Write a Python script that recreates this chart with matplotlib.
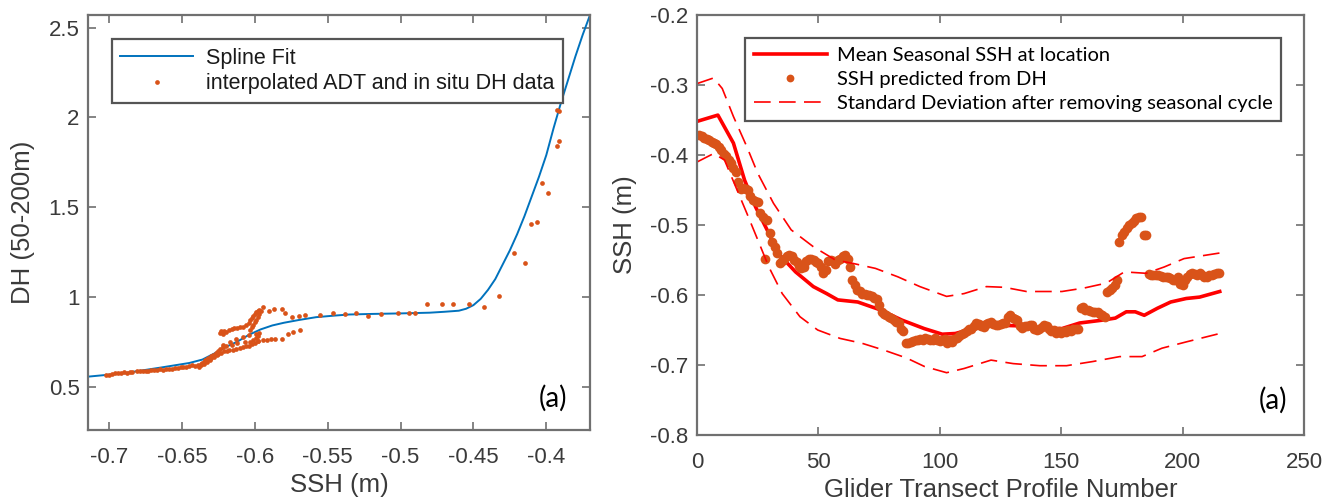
import matplotlib
matplotlib.use("Agg")
import matplotlib.pyplot as plt
from matplotlib.ticker import FixedLocator, FixedFormatter

plt.rcParams['axes.unicode_minus'] = False
plt.rcParams['font.family'] = ['Liberation Sans', 'DejaVu Sans']

# ---------------- Panel 1 data ----------------
spline_ssh = [-0.7145, -0.700, -0.690, -0.677, -0.665, -0.655, -0.645, -0.636, -0.628, -0.620,
              -0.612, -0.604, -0.596, -0.588, -0.580, -0.570, -0.558, -0.545, -0.535, -0.520,
              -0.500, -0.480, -0.470, -0.460, -0.455, -0.450, -0.445, -0.440, -0.435, -0.430,
              -0.425, -0.420, -0.415, -0.410, -0.405, -0.400, -0.395, -0.390, -0.385, -0.380,
              -0.375, -0.370]
spline_dh = [0.557, 0.568, 0.576, 0.592, 0.607, 0.620, 0.633, 0.652, 0.685, 0.722,
             0.752, 0.790, 0.820, 0.842, 0.857, 0.872, 0.888, 0.897, 0.903, 0.906,
             0.909, 0.913, 0.918, 0.924, 0.935, 0.955, 0.990, 1.040, 1.100, 1.180,
             1.260, 1.350, 1.450, 1.560, 1.670, 1.790, 1.940, 2.080, 2.210, 2.340,
             2.460, 2.570]

obs_ssh = [
    # low flat part
    -0.702, -0.700, -0.698, -0.696, -0.694, -0.692, -0.690, -0.688, -0.686, -0.684,
    -0.681, -0.679, -0.677, -0.675, -0.673, -0.671, -0.669, -0.667, -0.665, -0.663,
    -0.661, -0.659, -0.657, -0.655, -0.653, -0.651, -0.649, -0.647, -0.645, -0.643,
    -0.641, -0.639, -0.637,
    # dense lower part of the loop
    -0.638, -0.637, -0.636, -0.635, -0.635, -0.634, -0.633, -0.633, -0.632, -0.631,
    -0.630, -0.630, -0.629, -0.628, -0.627, -0.626, -0.625, -0.625, -0.624, -0.623,
    -0.622, -0.621, -0.620, -0.619, -0.618, -0.616, -0.615, -0.613, -0.612, -0.610,
    -0.608, -0.607, -0.606, -0.604, -0.603, -0.602, -0.601, -0.600, -0.599, -0.598,
    -0.598, -0.597,
    # upper branch of the loop
    -0.624, -0.623, -0.622, -0.621, -0.620, -0.618, -0.616, -0.614, -0.612, -0.610,
    -0.608, -0.606, -0.604, -0.603, -0.602, -0.601, -0.600, -0.599, -0.598, -0.597,
    -0.596, -0.597, -0.598, -0.599, -0.600, -0.601, -0.602, -0.603,
    # middle branch
    -0.622, -0.617, -0.613, -0.608, -0.604, -0.599,
    # lower right branch
    -0.5977, -0.5947, -0.5920, -0.5890, -0.5863, -0.5817, -0.5771, -0.5737, -0.5691,
    # upper right points
    -0.5942, -0.5900, -0.5870, -0.5816, -0.5790, -0.5747, -0.5700, -0.5656,
    # plateau
    -0.5554, -0.5463, -0.5383, -0.5303, -0.5223, -0.5131, -0.5017, -0.4941, -0.4901,
    -0.4822, -0.4717, -0.4638, -0.4532, -0.4427, -0.4322,
    # steep part
    -0.4224, -0.4148, -0.4103, -0.4063, -0.4032, -0.3985, -0.3927, -0.3913, -0.3927, -0.3911,
]
obs_dh = [
    0.565, 0.568, 0.572, 0.575, 0.577, 0.579, 0.581, 0.580, 0.583, 0.585,
    0.586, 0.588, 0.589, 0.591, 0.590, 0.593, 0.595, 0.596, 0.597, 0.596,
    0.599, 0.601, 0.600, 0.603, 0.605, 0.612, 0.608, 0.611, 0.615, 0.620,
    0.617, 0.622, 0.626,
    0.612, 0.620, 0.632, 0.640, 0.625, 0.648, 0.655, 0.638, 0.662, 0.650,
    0.670, 0.658, 0.680, 0.668, 0.690, 0.676, 0.700, 0.684, 0.710, 0.690,
    0.720, 0.697, 0.728, 0.700, 0.705, 0.735, 0.708, 0.712, 0.742, 0.716,
    0.720, 0.748, 0.725, 0.730, 0.752, 0.738, 0.760, 0.745, 0.770, 0.755,
    0.785, 0.800,
    0.800, 0.810, 0.795, 0.812, 0.805, 0.815, 0.822, 0.825, 0.828, 0.832,
    0.835, 0.845, 0.855, 0.870, 0.885, 0.895, 0.905, 0.915, 0.922, 0.927,
    0.925, 0.905, 0.890, 0.875, 0.860, 0.845, 0.832, 0.818,
    0.732, 0.752, 0.769, 0.780, 0.788, 0.797,
    0.756, 0.760, 0.760, 0.766, 0.769, 0.769, 0.797, 0.806, 0.815,
    0.942, 0.925, 0.936, 0.936, 0.912, 0.890, 0.894, 0.899,
    0.899, 0.909, 0.904, 0.909, 0.896, 0.904, 0.909, 0.912, 0.914,
    0.961, 0.961, 0.961, 0.964, 0.946, 1.007,
    1.243, 1.191, 1.406, 1.419, 1.633, 1.577, 2.041, 2.038, 1.843, 1.869,
]

p1_xticks = [-0.7, -0.65, -0.6, -0.55, -0.5, -0.45, -0.4]
p1_xticklabels = ['-0.7', '-0.65', '-0.6', '-0.55', '-0.5', '-0.45', '-0.4']
p1_yticks = [0.5, 1.0, 1.5, 2.0, 2.5]
p1_yticklabels = ['0.5', '1', '1.5', '2', '2.5']

# ---------------- Panel 2 data ----------------
mean_n = [0, 8.6, 15, 19.6, 24.1, 29.6, 33.3, 40.6, 47.9, 53.4, 58, 66.2, 75.3, 84.5, 93.6,
          101, 106.4, 113.8, 122.9, 132, 141.2, 150.3, 157.6, 166.8, 172.3, 176.8, 180.5,
          184.2, 189.6, 195.1, 201.5, 207, 215.3]
mean_ssh = [-0.352, -0.343, -0.383, -0.436, -0.474, -0.512, -0.540, -0.567, -0.588, -0.598,
            -0.607, -0.610, -0.621, -0.636, -0.648, -0.656, -0.655, -0.648, -0.643, -0.644,
            -0.648, -0.648, -0.640, -0.636, -0.633, -0.624, -0.624, -0.629, -0.619, -0.610,
            -0.605, -0.603, -0.595]

upper_n = [0, 6.8, 10.4, 15, 20.5, 25, 31.5, 38.8, 47.9, 57, 64.4, 73.5, 82.7, 91.8, 102.8,
           110, 119.2, 126.6, 135.7, 150.3, 159.5, 168.6, 176, 185, 192.4, 200.6, 215.3]
upper_ssh = [-0.298, -0.290, -0.305, -0.345, -0.388, -0.426, -0.469, -0.507, -0.531, -0.550,
             -0.555, -0.562, -0.574, -0.588, -0.602, -0.598, -0.588, -0.589, -0.595, -0.595,
             -0.590, -0.583, -0.567, -0.569, -0.560, -0.548, -0.540]

lower_n = [0, 6.8, 11.3, 15.9, 20.5, 25, 29.6, 35.1, 42.4, 49.7, 58.9, 68, 77.2, 86.3, 93.6,
           102.8, 110, 121.1, 130.2, 141.2, 152.2, 163.1, 174.1, 183.3, 191.5, 201.5, 215.3]
lower_ssh = [-0.410, -0.398, -0.407, -0.445, -0.483, -0.521, -0.560, -0.598, -0.631, -0.650,
             -0.662, -0.669, -0.679, -0.690, -0.702, -0.711, -0.705, -0.693, -0.698, -0.701,
             -0.701, -0.695, -0.688, -0.688, -0.676, -0.667, -0.655]

profile_n = list(range(1, 216))
pred_ssh = [
    -0.371, -0.373, -0.376, -0.377, -0.379, -0.381, -0.383, -0.385, -0.388, -0.393,
    -0.398, -0.402, -0.407, -0.412, -0.419, -0.425, -0.438, -0.448, -0.447, -0.448,
    -0.450, -0.458, -0.464, -0.466, -0.467, -0.483, -0.488, -0.548, -0.493, -0.512,
    -0.524, -0.531, -0.540, -0.555, -0.552, -0.548, -0.545, -0.543, -0.545, -0.550,
    -0.553, -0.558, -0.562, -0.560, -0.552, -0.548, -0.548, -0.550, -0.553, -0.555,
    -0.560, -0.569, -0.565, -0.552, -0.550, -0.552, -0.556, -0.550, -0.548, -0.545,
    -0.543, -0.548, -0.560, -0.579, -0.586, -0.593, -0.595, -0.598, -0.598, -0.600,
    -0.600, -0.602, -0.604, -0.606, -0.615, -0.624, -0.627, -0.629, -0.631, -0.633,
    -0.636, -0.638, -0.640, -0.648, -0.652, -0.669, -0.668, -0.667, -0.666, -0.665,
    -0.664, -0.663, -0.664, -0.662, -0.663, -0.665, -0.664, -0.662, -0.664, -0.666,
    -0.664, -0.663, -0.668, -0.665, -0.667, -0.663, -0.662, -0.658, -0.656, -0.655,
    -0.652, -0.648, -0.648, -0.645, -0.640, -0.642, -0.645, -0.646, -0.642, -0.640,
    -0.638, -0.641, -0.643, -0.643, -0.641, -0.640, -0.640, -0.632, -0.629, -0.633,
    -0.635, -0.636, -0.645, -0.647, -0.645, -0.644, -0.643, -0.643, -0.648, -0.650,
    -0.648, -0.646, -0.643, -0.645, -0.649, -0.652, -0.650, -0.654, -0.652, -0.655,
    -0.651, -0.653, -0.650, -0.652, -0.649, -0.648, -0.648, -0.619, -0.617, -0.621,
    -0.621, -0.623, -0.624, -0.624, -0.625, -0.627, -0.629, -0.631, -0.596, -0.593,
    -0.590, -0.586, -0.578, -0.524, -0.515, -0.510, -0.505, -0.500, -0.497, -0.495,
    -0.490, -0.488, -0.489, -0.514, -0.515, -0.570, -0.571, -0.571, -0.572, -0.571,
    -0.573, -0.574, -0.574, -0.575, -0.576, -0.578, -0.579, -0.575, -0.584, -0.586,
    -0.578, -0.574, -0.570, -0.569, -0.570, -0.571, -0.569, -0.571, -0.574, -0.575,
    -0.572, -0.571, -0.570, -0.569, -0.568,
]

p2_xticks = [0, 50, 100, 150, 200, 250]
p2_xticklabels = ['0', '50', '100', '150', '200', '250']
p2_yticks = [-0.8, -0.7, -0.6, -0.5, -0.4, -0.3, -0.2]
p2_yticklabels = ['-0.8', '-0.7', '-0.6', '-0.5', '-0.4', '-0.3', '-0.2']

# ---------------- Figure ----------------
W, H = 1331, 504
fig = plt.figure(figsize=(W / 100, H / 100), dpi=100)

def px_axes(x0, y0, x1, y1):
    return fig.add_axes([x0 / W, 1 - y1 / H, (x1 - x0) / W, (y1 - y0) / H])

TXT = '#3a3a3a'
FRAME = '#707070'
ORANGE = '#D95319'
BLUE = '#0072BD'

def style(ax):
    for s in ax.spines.values():
        s.set_color(FRAME)
        s.set_linewidth(1.6)
    ax.tick_params(direction='in', length=6, width=1.2, color=FRAME,
                   top=True, right=True, labelsize=16, labelcolor=TXT)
    ax.tick_params(axis='x', pad=12)
    ax.tick_params(axis='y', pad=6)

# Panel 1
ax1 = px_axes(88, 15, 590, 430)
ax1.plot(spline_ssh, spline_dh, color=BLUE, lw=1.4, label='Spline Fit')
ax1.plot(obs_ssh, obs_dh, ls='none', marker='o', ms=3.4, mec='none', mfc=ORANGE,
         label='interpolated ADT and in situ DH data')
ax1.set_xlim(-0.7145, -0.370)
ax1.set_ylim(0.26, 2.57)
ax1.xaxis.set_major_locator(FixedLocator(p1_xticks))
ax1.xaxis.set_major_formatter(FixedFormatter(p1_xticklabels))
ax1.yaxis.set_major_locator(FixedLocator(p1_yticks))
ax1.yaxis.set_major_formatter(FixedFormatter(p1_yticklabels))
style(ax1)
ax1.set_xlabel('SSH (m)', fontsize=18.5, color=TXT, labelpad=4)
ax1.set_ylabel('DH (50-200m)', fontsize=18.5, color=TXT, labelpad=10)
leg1 = ax1.legend(loc='upper left', bbox_to_anchor=(111.5 / W, 1 - 39 / H),
                  bbox_transform=fig.transFigure, fontsize=15.5, frameon=True,
                  fancybox=False, framealpha=1, edgecolor='#555555', handlelength=3.4,
                  handletextpad=0.6, borderpad=0.4, labelspacing=0.22, borderaxespad=0,
                  markerscale=1.0)
leg1.get_frame().set_linewidth(1.6)
for t in leg1.get_texts():
    t.set_color('#1a1a1a')
ax1.text(0.954, 0.077, '(a)', transform=ax1.transAxes, ha='right', va='center',
         fontsize=20, family=['Lato', 'DejaVu Sans'], color='black')

# Panel 2
ax2 = px_axes(697, 15, 1304, 435)
ax2.plot(mean_n, mean_ssh, color='#FF0000', lw=2.6, label='Mean Seasonal SSH at location')
ax2.plot(profile_n, pred_ssh, ls='none', marker='o', ms=7, mec='none', mfc=ORANGE,
         label='SSH predicted from DH')
ax2.plot(upper_n, upper_ssh, color='#FF0000', lw=1.2, ls=(0, (10, 5)),
         label='Standard Deviation after removing seasonal cycle')
ax2.plot(lower_n, lower_ssh, color='#FF0000', lw=1.2, ls=(0, (10, 5)))
ax2.set_xlim(0, 250)
ax2.set_ylim(-0.8, -0.2)
ax2.xaxis.set_major_locator(FixedLocator(p2_xticks))
ax2.xaxis.set_major_formatter(FixedFormatter(p2_xticklabels))
ax2.yaxis.set_major_locator(FixedLocator(p2_yticks))
ax2.yaxis.set_major_formatter(FixedFormatter(p2_yticklabels))
style(ax2)
ax2.set_xlabel('Glider Transect Profile Number', fontsize=18.5, color=TXT, labelpad=4)
ax2.set_ylabel('SSH (m)', fontsize=18.5, color=TXT, labelpad=10)
leg2 = ax2.legend(loc='upper left', bbox_to_anchor=(745 / W, 1 - 37.5 / H),
                  bbox_transform=fig.transFigure,
                  prop={'family': ['Lato', 'DejaVu Sans'], 'size': 14.5},
                  frameon=True, fancybox=False, framealpha=1, edgecolor='#555555',
                  handlelength=3.6, handletextpad=0.5, borderpad=0.45, labelspacing=0.35,
                  borderaxespad=0, markerscale=0.8)
leg2.get_frame().set_linewidth(1.6)
for t in leg2.get_texts():
    t.set_color('black')
ax2.text(0.972, 0.083, '(a)', transform=ax2.transAxes, ha='right', va='center',
         fontsize=20, family=['Lato', 'DejaVu Sans'], color='black')

fig.savefig('out.png', dpi=100)
